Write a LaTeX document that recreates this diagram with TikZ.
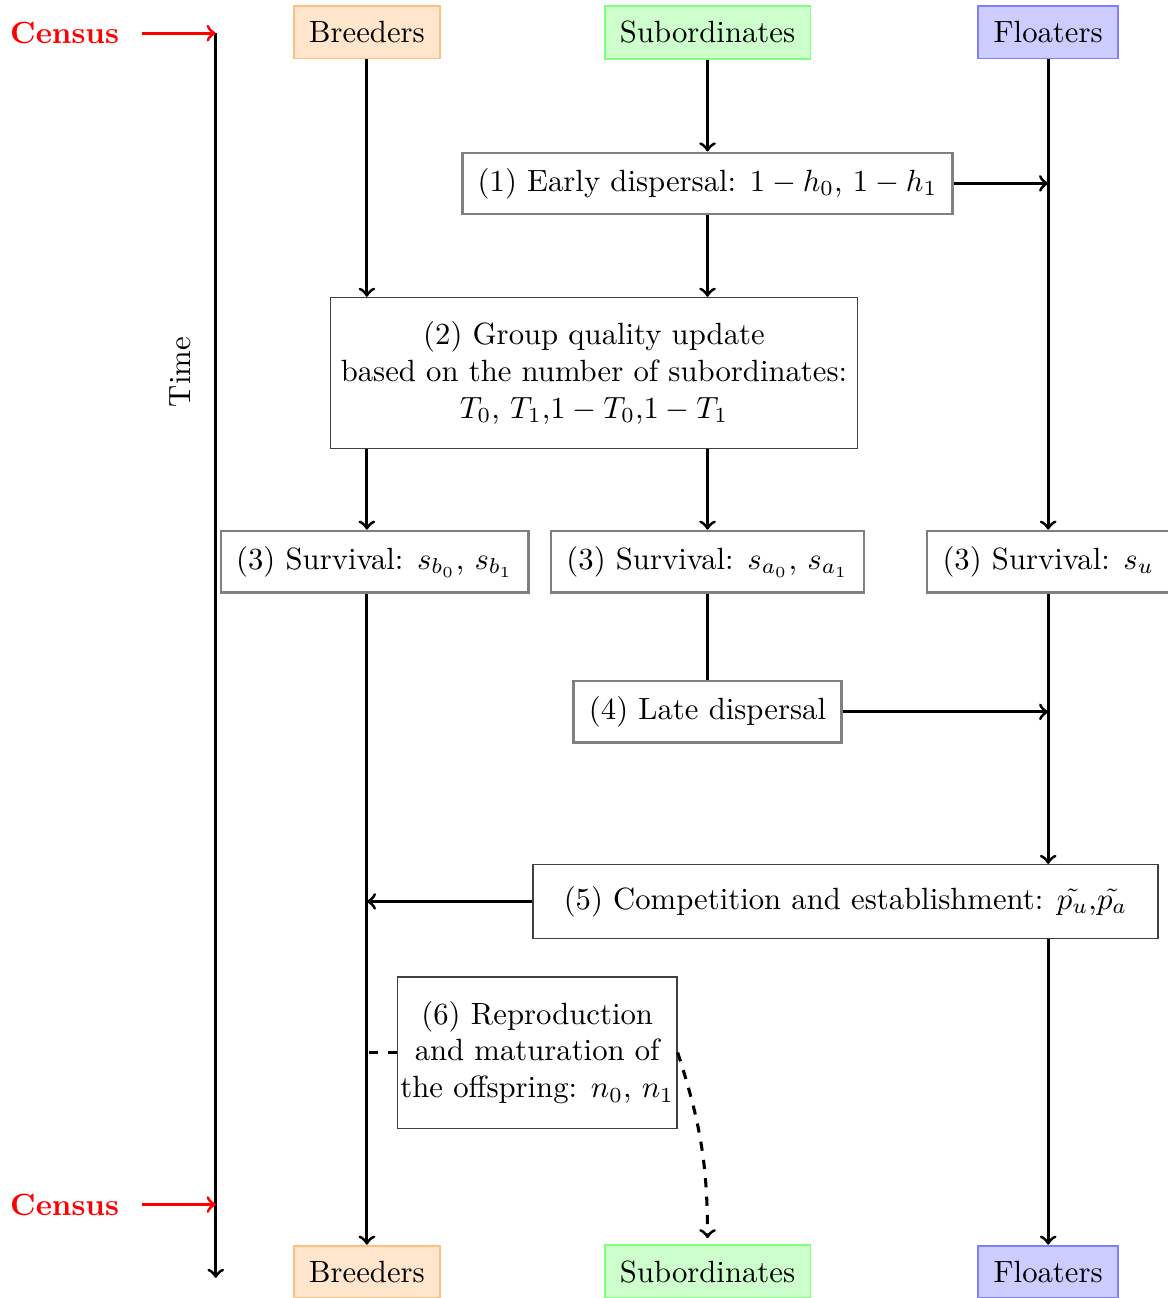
\documentclass[tikz,border=0pt]{standalone}
\usepackage{mathtools, amssymb, amsmath}
\usepackage{tikz}
\usetikzlibrary{positioning}

\tikzset{
  group/.style={inner sep=5pt, line width=0.6pt},
  stage/.style={draw=black!50, thick, inner sep=5pt, fill=white},
  bigstage/.style={draw=black!75, align=center, fill=white},
  flow/.style={->, line width=1pt},
  census/.style={red, font=\bfseries}
}

\begin{document}
\begin{tikzpicture}
    \useasboundingbox (0,0) rectangle (13.37,-14.86);

    % Time axis
    \coordinate (t0) at (2.47,-0.38);
    \coordinate (tc) at (2.47,-13.79);
    \coordinate (t1) at (2.47,-14.63);
    \draw[flow] (t0) -- (t1);
    \node[rotate=90] (time) at (2.06,-4.26) {Time};

    % Census marks
    \node[census] (census1) at (0.74,-0.38) {Census};
    \node[census] (census2) at (0.74,-13.79) {Census};
    \draw[->, red, line width=1pt, shorten <=4pt] (census1) -- (t0);
    \draw[->, red, line width=1pt, shorten <=4pt] (census2) -- (tc);

    % Classes at the start and the end
    \node[group, draw=orange!50, fill=orange!20] (B1) at (4.20,-0.37) {Breeders};
    \node[group, draw=green!50, fill=green!20] (S1) at (8.10,-0.37) {Subordinates};
    \node[group, draw=blue!50, fill=blue!20] (F1) at (12.00,-0.37) {Floaters};
    \node[group, draw=orange!50, fill=orange!20] (B2) at (4.20,-14.56) {Breeders};
    \node[group, draw=green!50, fill=green!20] (S2) at (8.10,-14.56) {Subordinates};
    \node[group, draw=blue!50, fill=blue!20] (F2) at (12.00,-14.56) {Floaters};

    % Stages
    \node[stage] (early) at (8.10,-2.10) {(1) Early dispersal: $1-h_0$, $1-h_1$};
    \node[bigstage, minimum height=1.73cm] (quality) at (6.80,-4.27) {(2) Group quality update\\based on the number of subordinates:\\$T_0$, $T_1$,$1-T_0$,$1-T_1$};
    \node[stage] (survb) at (4.29,-6.43) {(3) Survival: $s_{b_0}$, $s_{b_1}$};
    \node[stage] (surva) at (8.10,-6.43) {(3) Survival: $s_{a_0}$, $s_{a_1}$};
    \node[stage] (survu) at (12.00,-6.43) {(3) Survival: $s_u$};
    \node[stage] (late) at (8.10,-8.15) {(4) Late dispersal};
    \node[bigstage, inner xsep=10pt, inner ysep=7pt] (compet) at (9.68,-10.32) {(5) Competition and establishment: $\tilde{p_u}$,$\tilde{p_a}$};
    \node[bigstage, inner sep=1pt, minimum height=1.73cm, minimum width=3.2cm] (repro) at (6.15,-12.05) {(6) Reproduction\\and maturation of\\the offspring: $n_0$, $n_1$};

    % Breeders
    \draw[flow] (B1) -- (B1 |- quality.north);
    \draw[flow] (quality.south -| B1) -- (B1 |- survb.north);
    \draw[flow] (survb.south -| B1) -- (B2);
    \draw[flow] (compet) -- (compet -| B1);

    % Subordinates
    \draw[flow] (S1) -- (early);
    \draw[flow] (early) -- (early |- quality.north);
    \draw[flow] (quality.south -| S1) -- (surva);
    \draw[line width=1pt] (surva) -- (late);

    % Floaters
    \draw[flow] (F1) -- (survu);
    \draw[flow] (early) -- (early -| F1);
    \draw[flow] (late) -- (late -| F1);
    \draw[flow] (survu) -- (survu |- compet.north);
    \draw[flow] (compet.south -| F2) -- (F2);

    % Offspring
    \draw[line width=1pt, dashed] (repro) -- (repro -| B1);
    \draw[flow, dashed] (repro.east) to[out=-72, in=90] ([yshift=2pt]S2.north);

\end{tikzpicture}
\end{document}
